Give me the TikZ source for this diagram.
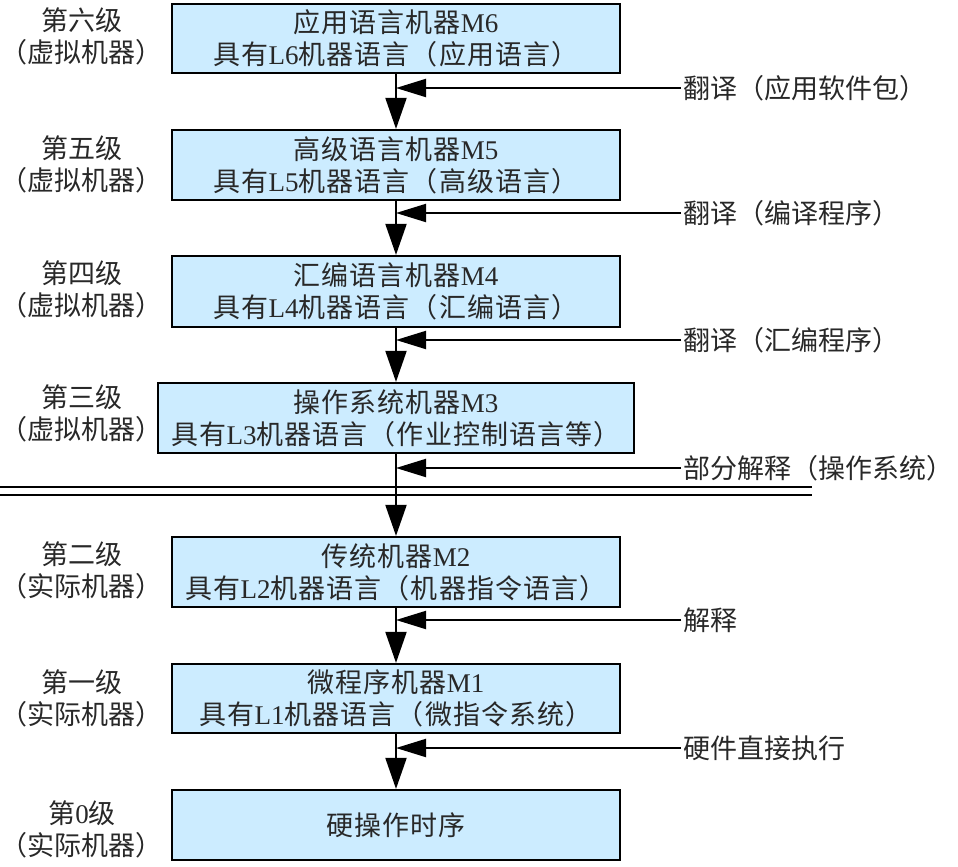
\documentclass[tikz,border=0pt]{standalone}
\usepackage{fontspec}
\setmainfont{Liberation Serif}
\newfontfamily\cjk[LetterSpace=4]{Noto Sans CJK SC}
\newfontfamily\cjktight{Noto Sans CJK SC}
\usetikzlibrary{arrows.meta}
\newcommand\lat[1]{{\rmfamily #1}}
\definecolor{boxfill}{RGB}{204,236,255}
\definecolor{ink}{RGB}{40,40,40}
\begin{document}
\begin{tikzpicture}[x=1pt,y=-1pt,
  txt/.style={font=\cjk\fontsize{27}{32}\selectfont, text=ink, align=center, inner sep=0pt},
  level/.style={draw=black, line width=2.2pt, fill=boxfill, txt, minimum width=448pt},
  varrow/.style={line width=2pt, -{Triangle[length=31pt,width=21pt]}},
  harrow/.style={line width=2pt, -{Triangle[length=30pt,width=18pt]}},
  tighttxt/.style={txt, font=\cjktight\fontsize{27}{32}\selectfont},
  note/.style={tighttxt, anchor=west, inner sep=2pt},
  side/.style={tighttxt}]
\useasboundingbox (0,0) rectangle (958,867);

% machine levels
\node[level, minimum height=69pt] (m6) at (396,38.5)
  {应用语言机器\lat{M6}\\具有\lat{L6}机器语言（应用语言）};
\node[level, minimum height=70pt] (m5) at (396,165)
  {高级语言机器\lat{M5}\\具有\lat{L5}机器语言（高级语言）};
\node[level, minimum height=71pt] (m4) at (396,291.5)
  {汇编语言机器\lat{M4}\\具有\lat{L4}机器语言（汇编语言）};
\node[level, minimum height=70pt, minimum width=476pt] (m3) at (396,418)
  {操作系统机器\lat{M3}\\具有\lat{L3}机器语言（作业控制语言等）};
\node[level, minimum height=70pt] (m2) at (396,572)
  {传统机器\lat{M2}\\具有\lat{L2}机器语言（机器指令语言）};
\node[level, minimum height=69pt] (m1) at (396,698.5)
  {微程序机器\lat{M1}\\具有\lat{L1}机器语言（微指令系统）};
\node[level, minimum height=70pt] (m0) at (396,825)
  {硬操作时序};

% level captions
\node[side] (s6) at (82,36)  {第六级\\（虚拟机器）};
\node[side] (s5) at (82,164) {第五级\\（虚拟机器）};
\node[side] (s4) at (82,289) {第四级\\（虚拟机器）};
\node[side] (s3) at (82,413) {第三级\\（虚拟机器）};
\node[side] (s2) at (82,570) {第二级\\（实际机器）};
\node[side] (s1) at (82,698) {第一级\\（实际机器）};
\node[side] (s0) at (82,829) {第\lat{0}级\\（实际机器）};

% virtual / real boundary
\draw[line width=2pt] (0,487) -- (812,487) (0,495) -- (812,495);

% level-to-level arrows
\draw[varrow] (m6.south) -- (m5.north);
\draw[varrow] (m5.south) -- (m4.north);
\draw[varrow] (m4.south) -- (m3.north);
\draw[varrow] (m3.south) -- (m2.north);
\draw[varrow] (m2.south) -- (m1.north);
\draw[varrow] (m1.south) -- (m0.north);

% translation / interpretation notes
\node[note] (n6) at (681,88)  {翻译（应用软件包）};
\node[note] (n5) at (681,213) {翻译（编译程序）};
\node[note] (n4) at (681,340) {翻译（汇编程序）};
\node[note] (n3) at (681,468) {部分解释（操作系统）};
\node[note] (n2) at (681,620) {解释};
\node[note] (n1) at (681,748) {硬件直接执行};

\draw[harrow] (n6.west) -- (n6.west -| m6.south);
\draw[harrow] (n5.west) -- (n5.west -| m5.south);
\draw[harrow] (n4.west) -- (n4.west -| m4.south);
\draw[harrow] (n3.west) -- (n3.west -| m3.south);
\draw[harrow] (n2.west) -- (n2.west -| m2.south);
\draw[harrow] (n1.west) -- (n1.west -| m1.south);
\end{tikzpicture}
\end{document}
